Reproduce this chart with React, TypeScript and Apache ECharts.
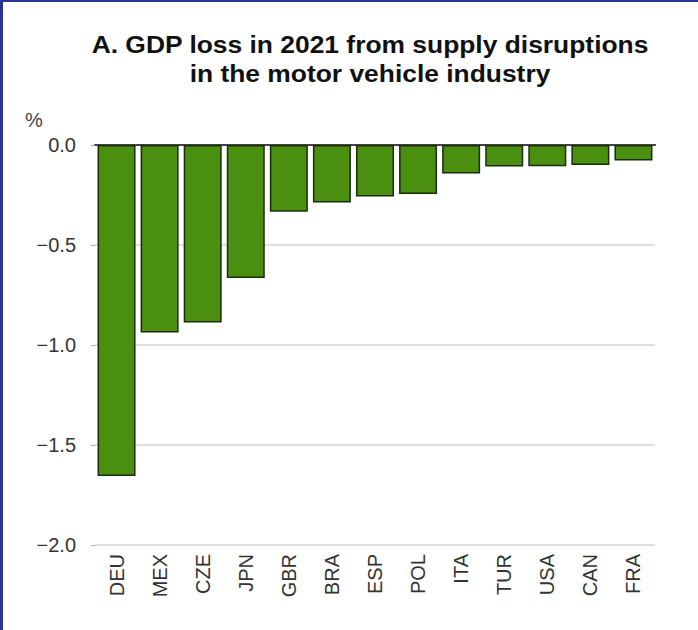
import React, { useEffect, useRef } from "react";
import * as echarts from "echarts";

const TITLE_LINES = ["A. GDP loss in 2021 from supply disruptions", "in the motor vehicle industry"];
const UNIT_LABEL = "%";
const categories = ["DEU", "MEX", "CZE", "JPN", "GBR", "BRA", "ESP", "POL", "ITA", "TUR", "USA", "CAN", "FRA"];
const gdpLoss = [-1.655, -0.937, -0.888, -0.665, -0.334, -0.287, -0.258, -0.245, -0.142, -0.108, -0.106, -0.1, -0.078];
const yMin = -2.0;
const yMax = 0.0;
const yInterval = 0.5;

export default function App() {
  const ref = useRef<HTMLDivElement>(null);
  useEffect(() => {
    if (!ref.current) return;
    const chart = echarts.init(ref.current, null, { renderer: "svg" });
    const font = "'Liberation Sans', Arial, sans-serif";
    chart.setOption({
      animation: false,
      backgroundColor: "#ffffff",
      graphic: [
        { type: "rect", left: 0, top: 0, shape: { width: 3, height: 630 }, style: { fill: "#2b3492" } },
        { type: "rect", left: 0, top: 0, shape: { width: 698, height: 2 }, style: { fill: "#2b3492" } },
        {
          type: "text",
          x: 370,
          y: 44.5,
          scaleX: 1.1,
          style: {
            text: TITLE_LINES[0],
            font: `bold 24px ${font}`,
            fill: "#111",
            align: "center",
            verticalAlign: "middle",
          },
        },
        {
          type: "text",
          x: 370,
          y: 73.5,
          scaleX: 1.1,
          style: {
            text: TITLE_LINES[1],
            font: `bold 24px ${font}`,
            fill: "#111",
            align: "center",
            verticalAlign: "middle",
          },
        },
        {
          type: "text",
          x: 25,
          y: 110,
          style: { text: UNIT_LABEL, font: `20px ${font}`, fill: "#444" },
        },
      ],
      grid: { left: 95, right: 43, top: 145, bottom: 85, containLabel: false },
      xAxis: [
        {
          type: "category",
          data: categories,
          position: "bottom",
          axisLine: { show: true, lineStyle: { color: "#555", width: 2 } },
          axisTick: { show: false },
          axisLabel: { rotate: 90, margin: 9, fontFamily: font, fontSize: 20, color: "#333" },
        },
        {
          type: "category",
          data: categories,
          position: "top",
          axisLine: { show: true, lineStyle: { color: "#444", width: 2 } },
          axisTick: { show: false },
          axisLabel: { show: false },
        },
      ],
      yAxis: {
        type: "value",
        min: yMin,
        max: yMax,
        interval: yInterval,
        axisLine: { show: false },
        axisTick: { show: true, length: 4, lineStyle: { color: "#aaa" } },
        splitLine: { show: true, lineStyle: { color: "#d4d4d4", width: 1.5 } },
        axisLabel: {
          margin: 19,
          fontFamily: font,
          fontSize: 20,
          color: "#333",
          formatter: (v: number) => v.toFixed(1).replace("-", "\u2212"),
        },
      },
      series: [
        {
          type: "bar",
          data: gdpLoss,
          barWidth: 38,
          itemStyle: { color: "#4a8f0f", borderColor: "#1b2c0b", borderWidth: 1.5 },
        },
      ],
    });
    return () => chart.dispose();
  }, []);
  return <div ref={ref} style={{ position: "absolute", left: 0, top: 0, width: 698, height: 630 }} />;
}
